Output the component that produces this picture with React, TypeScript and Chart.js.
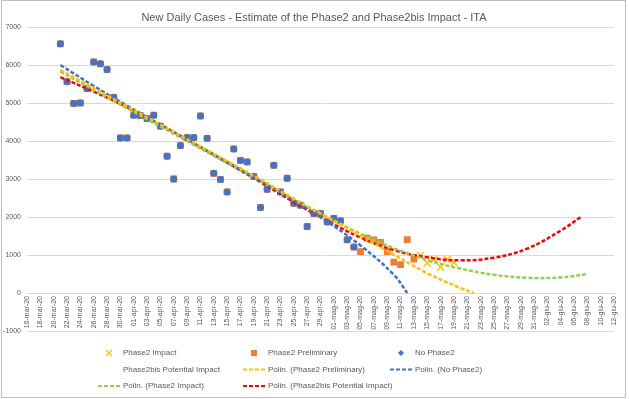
import React, { useEffect, useRef } from "react";
import { Chart, registerables } from "chart.js";

Chart.register(...registerables);

// ---- categories: one label per day, 16-mar-20 → 12-giu-20 ----
const MONTH_SPANS: [string, number, number][] = [
  ["mar", 16, 31],
  ["apr", 1, 30],
  ["mag", 1, 31],
  ["giu", 1, 12],
];
function buildDayLabels(): string[] {
  const out: string[] = [];
  for (const [m, a, b] of MONTH_SPANS) {
    for (let d = a; d <= b; d++) out.push(`${d < 10 ? "0" + d : d}-${m}-20`);
  }
  return out;
}
const dayLabels = buildDayLabels();

const chartTitle = "New Daily Cases - Estimate of the Phase2 and Phase2bis Impact - ITA";
const yTicks = [-1000, 0, 1000, 2000, 3000, 4000, 5000, 6000, 7000];

// ---- observed series ----
const noPhase2Start = "21-mar-20";
const noPhase2 = [
  6557, 5560, 4990, 5000, 5380, 6080, 6030, 5880, 5150, 4080, 4080, 4680, 4670, 4590, 4680,
  4390, 3600, 3000, 3880, 4090, 4090, 4660, 4070, 3150, 2990, 2660, 3790, 3490, 3450, 3070,
  2250, 2730, 3360, 2660, 3020, 2360, 2310, 1750, 2090, 2090, 1870, 1965, 1900, 1400, 1210,
];

const phase2PrelimStart = "21-mar-20";
const phase2Prelim = [
  6557, 5560, 4990, 5000, 5380, 6080, 6030, 5880, 5150, 4080, 4080, 4680, 4670, 4590, 4680,
  4390, 3600, 3000, 3880, 4090, 4090, 4660, 4070, 3150, 2990, 2660, 3790, 3490, 3450, 3070,
  2250, 2730, 3360, 2660, 3020, 2360, 2310, 1750, 2090, 2090, 1870, 1965, 1900, 1400, 1210,
  1090, 1444, 1400, 1330, 1090, 810, 744, 1402, 895,
];

const phase2ImpactStart = "14-mag-20";
const phase2Impact = [992, 789, 880, 675, 890, 800];

// ---- polynomial trend lines ----
const trendNoPhase2Dates = ["21-mar-20", "26-mar-20", "31-mar-20", "05-apr-20", "10-apr-20", "15-apr-20", "20-apr-20", "25-apr-20", "30-apr-20", "05-mag-20", "10-mag-20", "12-mag-20"];
const trendNoPhase2 = [6000, 5450, 4930, 4430, 3940, 3450, 2950, 2440, 1880, 1250, 480, 0];

const trendPrelimDates = ["21-mar-20", "26-mar-20", "31-mar-20", "05-apr-20", "10-apr-20", "15-apr-20", "20-apr-20", "25-apr-20", "30-apr-20", "05-mag-20", "10-mag-20", "15-mag-20", "20-mag-20", "22-mag-20"];
const trendPrelim = [5870, 5390, 4910, 4430, 3950, 3470, 2990, 2480, 2000, 1510, 1010, 520, 130, 0];

const trendImpactDates = ["21-mar-20", "26-mar-20", "31-mar-20", "05-apr-20", "10-apr-20", "15-apr-20", "20-apr-20", "25-apr-20", "30-apr-20", "05-mag-20", "10-mag-20", "15-mag-20", "20-mag-20", "25-mag-20", "30-mag-20", "04-giu-20", "08-giu-20"];
const trendImpact = [5830, 5340, 4860, 4380, 3900, 3420, 2950, 2450, 2000, 1560, 1180, 870, 640, 480, 400, 410, 500];

const trendBisDates = ["21-mar-20", "26-mar-20", "31-mar-20", "05-apr-20", "10-apr-20", "15-apr-20", "20-apr-20", "25-apr-20", "30-apr-20", "05-mag-20", "10-mag-20", "15-mag-20", "20-mag-20", "25-mag-20", "30-mag-20", "04-giu-20", "07-giu-20"];
const trendBis = [5680, 5300, 4890, 4430, 3940, 3430, 2920, 2390, 1900, 1460, 1130, 940, 860, 930, 1170, 1640, 2000];

// ---- helpers ----
function fromStart(start: string, values: number[]) {
  const i0 = dayLabels.indexOf(start);
  return values.map((y, i) => ({ x: dayLabels[i0 + i], y }));
}
function pair(dates: string[], values: number[]) {
  return dates.map((x, i) => ({ x, y: values[i] }));
}

const C_BLUE = "#4472C4";
const C_ORANGE = "#ED7D31";
const C_GOLD = "#FFC000";
const C_GREEN = "#92D050";
const C_RED = "#FF0000";
const TXT = "#595959";
const FONT = "'Liberation Sans', Arial, sans-serif";

type LegendItem = { text: string; kind: "x" | "rect" | "dot" | "line" | "none"; color: string; col: number; row: number };
const legendItems: LegendItem[] = [
  { text: "Phase2 Impact", kind: "x", color: C_GOLD, col: 0, row: 0 },
  { text: "Phase2 Preliminary", kind: "rect", color: C_ORANGE, col: 1, row: 0 },
  { text: "No Phase2", kind: "dot", color: C_BLUE, col: 2, row: 0 },
  { text: "Phase2bis Potential Impact", kind: "none", color: "", col: 0, row: 1 },
  { text: "Polin. (Phase2 Preliminary)", kind: "line", color: C_GOLD, col: 1, row: 1 },
  { text: "Polin. (No Phase2)", kind: "line", color: C_BLUE, col: 2, row: 1 },
  { text: "Polin. (Phase2 Impact)", kind: "line", color: C_GREEN, col: 0, row: 2 },
  { text: "Polin. (Phase2bis Potential Impact)", kind: "line", color: C_RED, col: 1, row: 2 },
];

const decorPlugin = {
  id: "decor",
  beforeDraw(chart: any) {
    const ctx = chart.ctx as CanvasRenderingContext2D;
    ctx.save();
    ctx.fillStyle = "#ffffff";
    ctx.fillRect(0, 0, chart.width, chart.height);
    ctx.strokeStyle = "#bfbfbf";
    ctx.lineWidth = 1;
    ctx.strokeRect(1.5, 0.5, 624, 397);
    ctx.restore();
  },
  afterDraw(chart: any) {
    const ctx = chart.ctx as CanvasRenderingContext2D;
    ctx.save();
    // title
    ctx.fillStyle = TXT;
    ctx.font = `11px ${FONT}`;
    ctx.textAlign = "center";
    ctx.textBaseline = "middle";
    ctx.fillText(chartTitle, 314, 18);
    // legend
    const colX = [109, 254, 401];
    const rowY = [353, 369.5, 386];
    ctx.font = `8px ${FONT}`;
    ctx.textAlign = "left";
    for (const it of legendItems) {
      const cx = colX[it.col];
      const cy = rowY[it.row];
      if (it.kind === "x") {
        ctx.strokeStyle = it.color;
        ctx.lineWidth = 1.2;
        ctx.beginPath();
        ctx.moveTo(cx - 3, cy - 3);
        ctx.lineTo(cx + 3, cy + 3);
        ctx.moveTo(cx + 3, cy - 3);
        ctx.lineTo(cx - 3, cy + 3);
        ctx.stroke();
      } else if (it.kind === "rect") {
        ctx.fillStyle = it.color;
        ctx.fillRect(cx - 3, cy - 3, 6, 6);
      } else if (it.kind === "dot") {
        ctx.fillStyle = it.color;
        ctx.beginPath();
        ctx.moveTo(cx, cy - 3);
        ctx.lineTo(cx + 3, cy);
        ctx.lineTo(cx, cy + 3);
        ctx.lineTo(cx - 3, cy);
        ctx.closePath();
        ctx.fill();
      } else if (it.kind === "line") {
        ctx.strokeStyle = it.color;
        ctx.lineWidth = 2;
        ctx.setLineDash([4, 2]);
        ctx.beginPath();
        ctx.moveTo(cx - 11, cy);
        ctx.lineTo(cx + 11, cy);
        ctx.stroke();
        ctx.setLineDash([]);
      }
      ctx.fillStyle = TXT;
      ctx.fillText(it.text, cx + 14, cy);
    }
    ctx.restore();
  },
};

function trend(label: string, data: any[], color: string) {
  return {
    label,
    data,
    borderColor: color,
    backgroundColor: color,
    borderWidth: 2.5,
    borderDash: [4, 2],
    pointRadius: 0,
    pointHoverRadius: 0,
    tension: 0.4,
    fill: false,
    order: 0,
  };
}

export default function App() {
  const ref = useRef<HTMLCanvasElement>(null);
  useEffect(() => {
    if (!ref.current) return;
    Chart.defaults.font.family = FONT;
    const chart = new Chart(ref.current, {
      type: "line",
      data: {
        labels: dayLabels,
        datasets: [
          trend("Polin. (Phase2 Preliminary)", pair(trendPrelimDates, trendPrelim), C_GOLD),
          trend("Polin. (No Phase2)", pair(trendNoPhase2Dates, trendNoPhase2), C_BLUE),
          trend("Polin. (Phase2 Impact)", pair(trendImpactDates, trendImpact), C_GREEN),
          trend("Polin. (Phase2bis Potential Impact)", pair(trendBisDates, trendBis), C_RED),
          {
            label: "No Phase2",
            data: fromStart(noPhase2Start, noPhase2),
            showLine: false,
            pointStyle: "circle",
            pointRadius: 3.5,
            pointBorderWidth: 0,
            backgroundColor: C_BLUE,
            borderColor: C_BLUE,
            order: 1,
          },
          {
            label: "Phase2 Impact",
            data: fromStart(phase2ImpactStart, phase2Impact),
            showLine: false,
            pointStyle: "crossRot",
            pointRadius: 5,
            pointBorderWidth: 1.4,
            backgroundColor: C_GOLD,
            borderColor: C_GOLD,
            order: 1,
          },
          {
            label: "Phase2 Preliminary",
            data: fromStart(phase2PrelimStart, phase2Prelim),
            showLine: false,
            pointStyle: "rect",
            pointRadius: 4.8,
            pointBorderWidth: 0,
            backgroundColor: C_ORANGE,
            borderColor: C_ORANGE,
            order: 2,
          },
        ] as any,
      },
      options: {
        responsive: false,
        animation: false,
        devicePixelRatio: 1,
        layout: { padding: { top: 27, bottom: 68, right: 15, left: 0 } },
        plugins: {
          legend: { display: false },
          title: { display: false },
          tooltip: { enabled: false },
        },
        scales: {
          x: {
            type: "category",
            position: { y: 0 } as any,
            offset: false,
            grid: { display: false, drawTicks: false },
            border: { display: true, color: "#d9d9d9" },
            ticks: {
              autoSkip: false,
              minRotation: 90,
              maxRotation: 90,
              padding: 3,
              color: TXT,
              font: { size: 7, family: FONT },
              callback: (_v: any, i: number) => (i % 2 === 0 ? dayLabels[i] : ""),
            },
          },
          y: {
            min: -1000,
            max: 7000,
            afterBuildTicks: (s: any) => {
              s.ticks = yTicks.map((v) => ({ value: v }));
            },
            afterFit: (s: any) => {
              s.width = 27;
            },
            grid: { color: "#d9d9d9", drawTicks: false },
            border: { display: false },
            ticks: {
              padding: 6,
              color: TXT,
              font: { size: 7, family: FONT },
              callback: (v: any) => String(v),
            },
          },
        },
      },
      plugins: [decorPlugin],
    } as any);
    return () => chart.destroy();
  }, []);
  return (
    <div style={{ position: "fixed", left: 0, top: 0, width: 629, height: 399, background: "#fff" }}>
      <canvas ref={ref} width={629} height={399} style={{ display: "block", width: 629, height: 399 }} />
    </div>
  );
}
